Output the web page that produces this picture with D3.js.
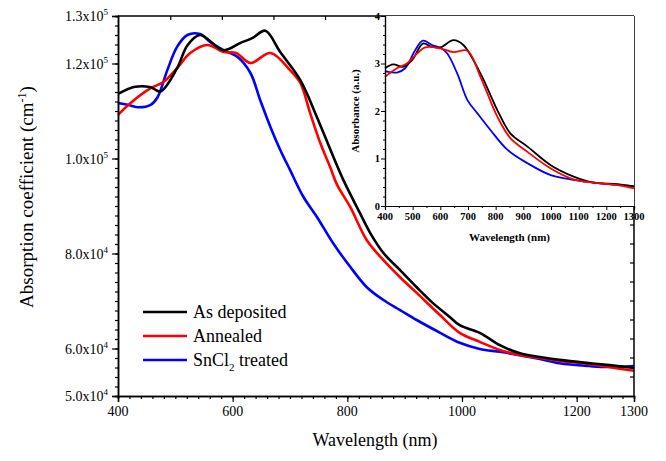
<!DOCTYPE html>
<html><head><meta charset="utf-8">
<script src="https://cdn.jsdelivr.net/npm/d3@7"></script>
<style>body{margin:0;background:#fff}svg{display:block}</style>
</head><body><svg id="c" width="666" height="461" font-family="'Liberation Serif','Times New Roman',Times,serif"></svg>
<script>
// Main chart data (wavelength nm, absorption coefficient cm^-1)
const asDepX = [400,430,457,474,503,521,543,584,613,635,657,683,718,747,770,793,822,840,863,892,921,949,979,996,1031,1066,1101,1136,1170,1223,1257,1300];
const asDepY = [113600,115100,115000,114100,119000,123800,126000,122800,124300,125400,126900,122400,116500,108700,102000,95500,88500,84300,80100,76500,72900,69600,66600,64900,63300,60700,59000,58200,57600,56900,56500,55900];
const annX = [400,422,457,479,503,526,556,584,606,631,666,700,718,735,753,770,782,805,834,863,892,921,962,996,1031,1066,1101,1136,1170,1223,1300];
const annY = [109200,111700,114800,116100,119000,122200,123900,122400,122200,120100,122200,118600,115900,109600,103200,98200,94500,89800,82800,78600,75000,71700,67000,63300,61400,59700,58600,58000,57400,56700,55300];
const snX = [400,417,434,457,469,486,503,521,543,561,584,608,631,648,666,683,700,723,747,775,805,834,863,892,921,962,996,1031,1066,1101,1136,1170,1223,1257,1300];
const snY = [111700,111300,110800,111300,112900,118600,123500,126000,126200,124500,122800,121400,118000,112300,106600,101800,97600,92000,87700,82200,77200,72900,70200,68100,66000,63300,61200,59900,59300,58600,57800,56900,56300,56100,56300];

// Inset data (wavelength nm, absorbance a.u.)
const inAsX = [400,430,465,498,537,570,600,647,683,745,806,853,915,999,1082,1155,1242,1300];
const inAsY = [2.90,2.98,2.93,3.07,3.42,3.35,3.34,3.49,3.39,2.79,2.02,1.53,1.25,0.86,0.62,0.49,0.46,0.41];
const inAnX = [400,443,479,516,545,600,647,698,745,806,853,915,999,1082,1155,1242,1300];
const inAnY = [2.72,2.90,3.00,3.21,3.34,3.32,3.24,3.27,2.72,1.88,1.43,1.14,0.79,0.56,0.49,0.44,0.37];
const inSnX = [400,443,473,509,537,570,600,625,661,698,734,781,843,915,999,1082,1242,1300];
const inSnY = [2.84,2.81,2.90,3.28,3.48,3.39,3.33,3.21,2.79,2.23,1.95,1.60,1.18,0.90,0.65,0.55,0.44,0.42];

const seriesNames = ["As deposited","Annealed","SnCl2 treated"];
const colors = ["#000000","#ff0000","#0000ff"];

const xTicks = [400,600,800,1000,1200,1300];
const yTicks = [50000,60000,80000,100000,120000,130000];
const yTickMant = ["5.0","6.0","8.0","1.0","1.2","1.3"];
const yTickExp = ["4","4","4","5","5","5"];
const topTicks = [492,582,672,762];
const inXTicks = [400,500,600,700,800,900,1000,1100,1200,1300];
const inYTicks = [0,1,2,3,4];

const svg = d3.select("#c");
const L=118,R=634,T=16,B=396;
const x = d3.scaleLinear().domain([400,1300]).range([L,R]);
const y = d3.scaleLinear().domain([50000,130000]).range([B,T]);

// main series
const mainData = [[asDepX,asDepY],[annX,annY],[snX,snY]];
const line = d3.line().x(d=>x(d[0])).y(d=>y(d[1])).curve(d3.curveCatmullRom.alpha(0.5));
[2,1,0].forEach(i=>{
  const [xs,ys]=mainData[i];
  svg.append("path").datum(xs.map((v,k)=>[v,ys[k]])).attr("d",line)
    .attr("fill","none").attr("stroke",colors[i]).attr("stroke-width",2.6).attr("stroke-linejoin","round");
});

// axes
const gx = svg.append("g").attr("transform",`translate(0,${B})`)
  .call(d3.axisBottom(x).tickValues(d3.range(400,1301,20)).tickSize(3).tickFormat(""));
gx.append("g").call(d3.axisBottom(x).tickValues(xTicks.slice(0,5)).tickSize(6).tickFormat(""));
gx.selectAll("path").attr("stroke","#000").attr("stroke-width",1.5);
gx.selectAll("line").attr("stroke","#000").attr("stroke-width",1.2);
xTicks.forEach(t=>{
  svg.append("text").attr("x",x(t)).attr("y",B+20).attr("text-anchor","middle").attr("font-size",14).text(t);
});

const gy = svg.append("g").attr("transform",`translate(${L},0)`)
  .call(d3.axisLeft(y).tickValues(d3.range(50000,130001,2000)).tickSize(3).tickFormat(""));
gy.append("g").call(d3.axisLeft(y).tickValues(yTicks).tickSize(6).tickFormat(""));
gy.selectAll("path").attr("stroke","#000").attr("stroke-width",1.5);
gy.selectAll("line").attr("stroke","#000").attr("stroke-width",1.2);
yTicks.forEach((t,i)=>{
  const tx = svg.append("text").attr("x",L-10).attr("y",y(t)+5).attr("text-anchor","end").attr("font-size",14);
  tx.append("tspan").text(yTickMant[i]+"x10");
  tx.append("tspan").attr("dy",-6).attr("font-size",9).text(yTickExp[i]);
});

// top & right frame
svg.append("line").attr("x1",L).attr("x2",R).attr("y1",T).attr("y2",T).attr("stroke","#000").attr("stroke-width",1.5);
svg.append("line").attr("x1",R).attr("x2",R).attr("y1",T).attr("y2",B).attr("stroke","#000").attr("stroke-width",1.5);
topTicks.forEach(t=>svg.append("line").attr("x1",x(t)).attr("x2",x(t)).attr("y1",T).attr("y2",T+4).attr("stroke","#000").attr("stroke-width",1.2));
d3.range(54000,130000,4000).forEach(t=>{
  if (y(t)>210) svg.append("line").attr("x1",R).attr("x2",R-4).attr("y1",y(t)).attr("y2",y(t)).attr("stroke","#000").attr("stroke-width",1.2);
});

// axis titles
svg.append("text").attr("x",375).attr("y",446).attr("text-anchor","middle").attr("font-size",18).text("Wavelength (nm)");
const yl = svg.append("text").attr("transform","translate(33,197) rotate(-90)").attr("text-anchor","middle").attr("font-size",19);
yl.append("tspan").text("Absorption coefficient (cm");
yl.append("tspan").attr("dy",-7).attr("font-size",12).text("-1");
yl.append("tspan").attr("dy",7).text(")");

// legend
const lg = [312,336,360];
seriesNames.forEach((n,i)=>{
  svg.append("line").attr("x1",143).attr("x2",187).attr("y1",lg[i]).attr("y2",lg[i]).attr("stroke",colors[i]).attr("stroke-width",2.6);
  const t = svg.append("text").attr("x",193).attr("y",lg[i]+6).attr("font-size",18);
  if(i===2){ t.append("tspan").text("SnCl"); t.append("tspan").attr("dy",5).attr("font-size",11).text("2"); t.append("tspan").attr("dy",-5).text(" treated"); }
  else t.text(n);
});

// inset
const IL=385,IR=634,IT=16,IB=206;
const ix = d3.scaleLinear().domain([400,1300]).range([IL,IR]);
const iy = d3.scaleLinear().domain([0,4]).range([IB,IT]);
svg.append("rect").attr("x",IL).attr("y",IT).attr("width",IR-IL).attr("height",IB-IT).attr("fill","#fff");
const iline = d3.line().x(d=>ix(d[0])).y(d=>iy(d[1])).curve(d3.curveCatmullRom.alpha(0.5));
const inData=[[inAsX,inAsY],[inAnX,inAnY],[inSnX,inSnY]];
[2,0,1].forEach(i=>{
  const [xs,ys]=inData[i];
  svg.append("path").datum(xs.map((v,k)=>[v,ys[k]])).attr("d",iline)
    .attr("fill","none").attr("stroke",colors[i]).attr("stroke-width",1.8);
});
const igx = svg.append("g").attr("transform",`translate(0,${IB})`)
  .call(d3.axisBottom(ix).tickValues(d3.range(450,1300,100)).tickSize(2).tickFormat(""));
igx.append("g").call(d3.axisBottom(ix).tickValues(inXTicks).tickSize(4).tickFormat(""));
const igy = svg.append("g").attr("transform",`translate(${IL},0)`)
  .call(d3.axisLeft(iy).tickValues(d3.range(0.2,4,0.2).filter(v=>Math.abs(v-Math.round(v))>0.01)).tickSize(2).tickFormat(""));
igy.append("g").call(d3.axisLeft(iy).tickValues(inYTicks).tickSize(4).tickFormat(""));
[igx,igy].forEach(g=>{g.selectAll("path").attr("stroke","#000").attr("stroke-width",1.2);g.selectAll("line").attr("stroke","#000").attr("stroke-width",1);});
inXTicks.forEach(t=>svg.append("text").attr("x",ix(t)).attr("y",IB+14).attr("text-anchor","middle").attr("font-size",10.5).attr("font-weight","bold").text(t));
inYTicks.forEach(t=>svg.append("text").attr("x",IL-5).attr("y",iy(t)+3.5).attr("text-anchor","end").attr("font-size",10.5).attr("font-weight","bold").text(t));
svg.append("text").attr("x",(IL+IR)/2).attr("y",241).attr("text-anchor","middle").attr("font-size",11).attr("font-weight","bold").text("Wavelength (nm)");
svg.append("text").attr("transform","translate(359,111) rotate(-90)").attr("text-anchor","middle").attr("font-size",11).attr("font-weight","bold").text("Absorbance (a.u.)");
</script></body></html>
